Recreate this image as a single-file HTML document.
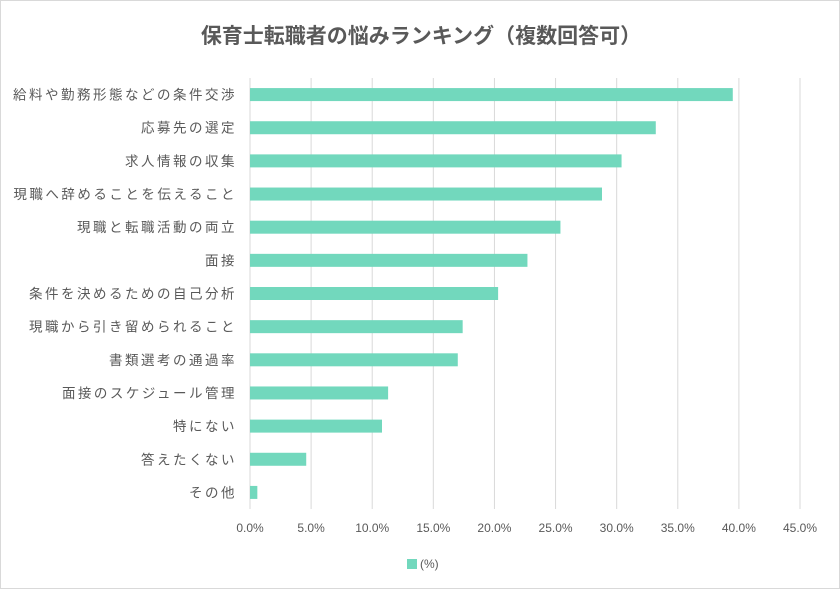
<!DOCTYPE html>
<html><head><meta charset="utf-8"><style>
body{margin:0;background:#fff;}
#wrap{width:840px;height:589px;position:relative;background:#fff;border:1px solid #d9d9d9;box-sizing:border-box;}
svg text{font-family:"Liberation Sans","Noto Sans CJK JP",sans-serif;fill:#595959;}
</style></head><body>
<div id="wrap">
<svg id="chart" width="840" height="589">
<text x="420" y="42" text-anchor="middle" font-size="21" font-weight="bold">保育士転職者の悩みランキング（複数回答可）</text>
<g id="grid"></g><g id="bars"></g><g id="ylabels"></g><g id="xlabels"></g>
<rect x="406" y="558" width="10" height="10" fill="#72d8bd"/>
<text x="419" y="567" font-size="12">(%)</text>
</svg></div>
<script>
const categories=["給料や勤務形態などの条件交渉","応募先の選定","求人情報の収集","現職へ辞めることを伝えること","現職と転職活動の両立","面接","条件を決めるための自己分析","現職から引き留められること","書類選考の通過率","面接のスケジュール管理","特にない","答えたくない","その他"];
const values=[39.5,33.2,30.4,28.8,25.4,22.7,20.3,17.4,17.0,11.3,10.8,4.6,0.6];
const ticks=[0,5,10,15,20,25,30,35,40,45];
const tickLabels=["0.0%","5.0%","10.0%","15.0%","20.0%","25.0%","30.0%","35.0%","40.0%","45.0%"];
const NS="http://www.w3.org/2000/svg";
const x0=249,x1=799,yTop=77,yBottom=508,vmax=45;
const xs=v=>x0+(x1-x0)*v/vmax;
const band=(yBottom-yTop)/categories.length;
const yc=i=>yTop+band*(i+0.5);
function mk(t,a,p){const e=document.createElementNS(NS,t);for(const k in a)e.setAttribute(k,a[k]);p.appendChild(e);return e;}
const g=document.getElementById('grid'),b=document.getElementById('bars'),yl=document.getElementById('ylabels'),xl=document.getElementById('xlabels');
ticks.forEach((t,i)=>{
 const l=mk('line',{x1:xs(t),x2:xs(t),y1:yTop,y2:yBottom,stroke:'#d9d9d9','stroke-width':1},g);
 
 
 const tx=mk('text',{x:xs(t),y:531,'text-anchor':'middle','font-size':12},xl);
 tx.textContent=tickLabels[i];
 
 
});
categories.forEach((c,i)=>{
 const r=mk('rect',{x:x0,y:yc(i)-6.5,width:xs(values[i])-x0,height:13,fill:'#72d8bd'},b);
 
 
 const t=mk('text',{x:236,y:yc(i)+5,'text-anchor':'end','font-size':13.5,'letter-spacing':'2.5px'},yl);
 t.textContent=c;
 
 
});
</script>
</body></html>
